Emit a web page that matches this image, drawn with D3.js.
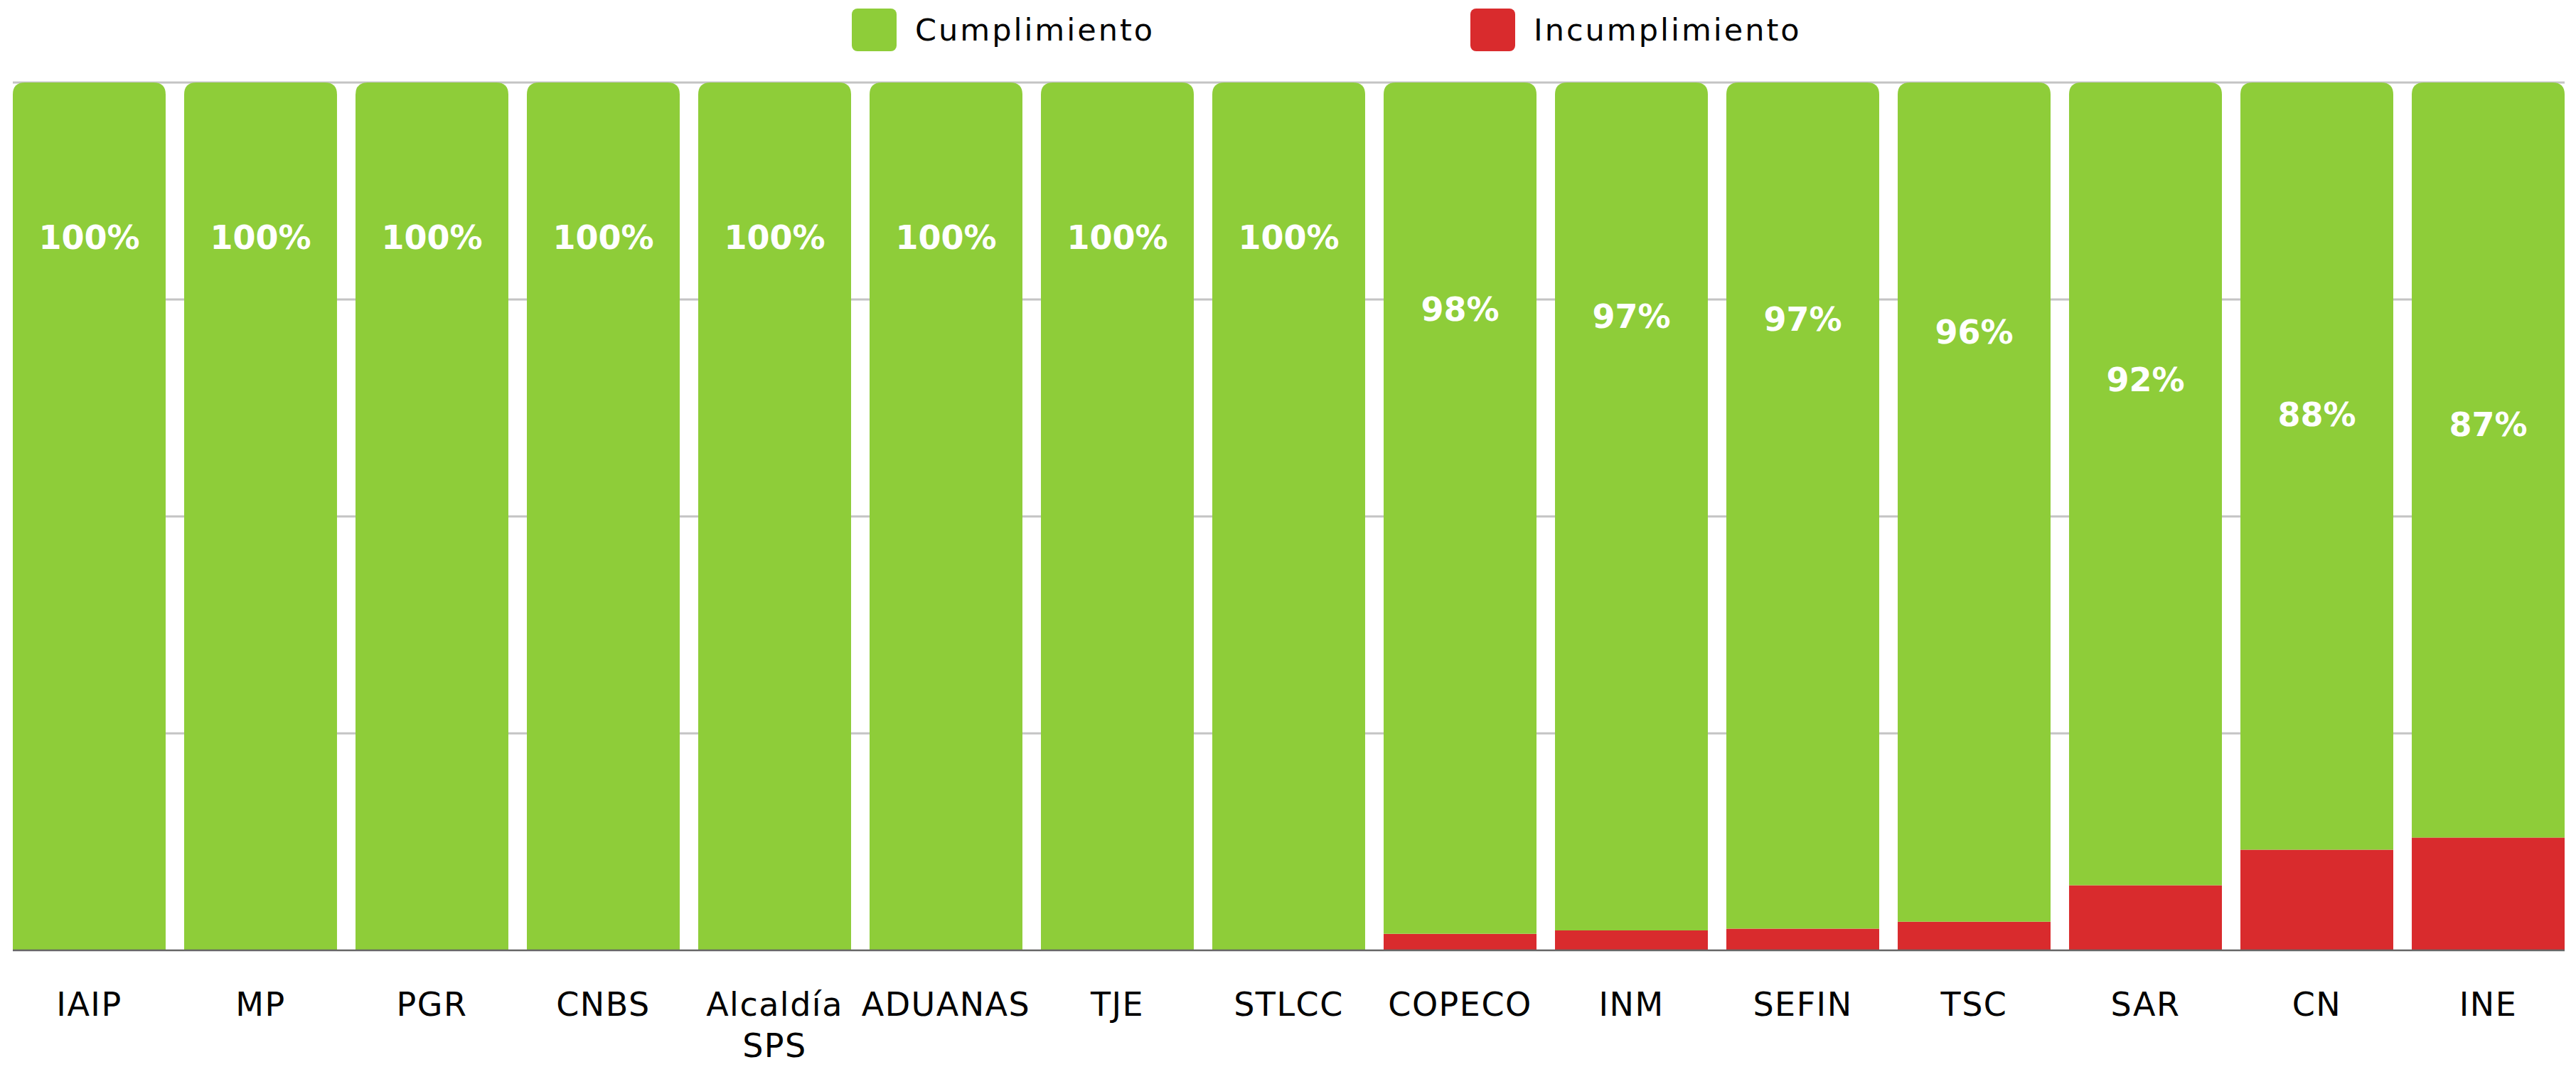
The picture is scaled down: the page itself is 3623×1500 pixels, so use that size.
<!DOCTYPE html>
<html>
<head>
<meta charset="utf-8">
<script src="https://cdn.jsdelivr.net/npm/d3@7"></script>
<style>
  html, body { margin: 0; padding: 0; background: #fff; }
  svg { display: block; }
</style>
</head>
<body>
<svg id="chart" width="3623" height="1500"></svg>
<script>
// ---- data ----
const categories = ["IAIP", "MP", "PGR", "CNBS", "Alcaldía SPS", "ADUANAS", "TJE", "STLCC",
                    "COPECO", "INM", "SEFIN", "TSC", "SAR", "CN", "INE"];
const cumplimiento   = [100, 100, 100, 100, 100, 100, 100, 100, 98.1, 97.7, 97.5, 96.7, 92.5, 88.4, 87.0];
const incumplimiento = [0, 0, 0, 0, 0, 0, 0, 0, 1.9, 2.3, 2.5, 3.3, 7.5, 11.6, 13.0];
const seriesNames = ["Cumplimiento", "Incumplimiento"];
const yTicks = [0, 25, 50, 75, 100];

// ---- layout ----
const plotLeft = 18, plotRight = 3607, plotTop = 116, plotBottom = 1336;
const colors = { Cumplimiento: "#8ECD39", Incumplimiento: "#D92B2D" };
const font = "'DejaVu Sans', 'Open Sans', sans-serif";

const svg = d3.select("#chart");

const x = d3.scaleBand().domain(categories).range([plotLeft, plotRight]).paddingInner(0.108).paddingOuter(0);
const y = d3.scaleLinear().domain([0, 100]).range([plotBottom, plotTop]);
// label placement inside the green segment grows with the non-compliance share
const labelOffset = d3.scaleSqrt().domain([0, 16]).range([234, 234 + 292]);

// gridlines
svg.append("g").selectAll("line").data(yTicks.filter(d => d > 0)).join("line")
  .attr("x1", plotLeft).attr("x2", plotRight)
  .attr("y1", d => y(d)).attr("y2", d => y(d))
  .attr("stroke", "#c4c4c4").attr("stroke-width", 3);

const rows = categories.map((c, i) => ({ cat: c, Cumplimiento: cumplimiento[i], Incumplimiento: incumplimiento[i] }));
const stacked = d3.stack().keys(["Incumplimiento", "Cumplimiento"])(rows);

const r = 17;
function roundedTop(x0, y0, w, h) {
  const rr = Math.min(r, h, w / 2);
  return `M${x0},${y0 + h}V${y0 + rr}Q${x0},${y0} ${x0 + rr},${y0}H${x0 + w - rr}Q${x0 + w},${y0} ${x0 + w},${y0 + rr}V${y0 + h}Z`;
}

// red segments
svg.append("g").selectAll("rect").data(stacked[0]).join("rect")
  .attr("x", d => x(d.data.cat)).attr("width", x.bandwidth())
  .attr("y", d => y(d[1])).attr("height", d => y(d[0]) - y(d[1]))
  .attr("fill", colors.Incumplimiento);

// green segments with rounded tops (filled up to the 100% line)
svg.append("g").selectAll("path").data(stacked[1]).join("path")
  .attr("d", d => roundedTop(x(d.data.cat), y(100), x.bandwidth(), y(d[0]) - y(100)))
  .attr("fill", colors.Cumplimiento);

// baseline
svg.append("line").attr("x1", plotLeft).attr("x2", plotRight)
  .attr("y1", plotBottom).attr("y2", plotBottom)
  .attr("stroke", "#666").attr("stroke-width", 2.5);

// value labels
svg.append("g").selectAll("text").data(rows).join("text")
  .attr("x", d => x(d.cat) + x.bandwidth() / 2)
  .attr("y", d => y(100) + labelOffset(d.Incumplimiento))
  .attr("text-anchor", "middle")
  .attr("font-family", font).attr("font-weight", 700).attr("font-size", 46)
  .attr("fill", "#fff")
  .text(d => Math.floor(d.Cumplimiento) + "%");

// category labels (wrapped)
const catG = svg.append("g");
categories.forEach(c => {
  const words = c.split(" ");
  const cx = x(c) + x.bandwidth() / 2;
  const t = catG.append("text")
    .attr("x", cx).attr("y", 1428)
    .attr("text-anchor", "middle")
    .attr("font-family", font).attr("font-size", 46)
    .attr("letter-spacing", 1.5).attr("fill", "#000");
  words.forEach((w, i) => {
    t.append("tspan").attr("x", cx).attr("dy", i === 0 ? 0 : 58).text(w);
  });
});

// legend
const legend = svg.append("g");
const legendX = [1198, 2068];
seriesNames.forEach((s, i) => {
  legend.append("rect").attr("x", legendX[i]).attr("y", 12).attr("width", 63).attr("height", 60)
    .attr("rx", 8).attr("fill", colors[s]);
  legend.append("text").attr("x", legendX[i] + 89).attr("y", 57)
    .attr("font-family", font).attr("font-size", 43).attr("letter-spacing", 3)
    .attr("fill", "#000").text(s);
});
</script>
</body>
</html>
